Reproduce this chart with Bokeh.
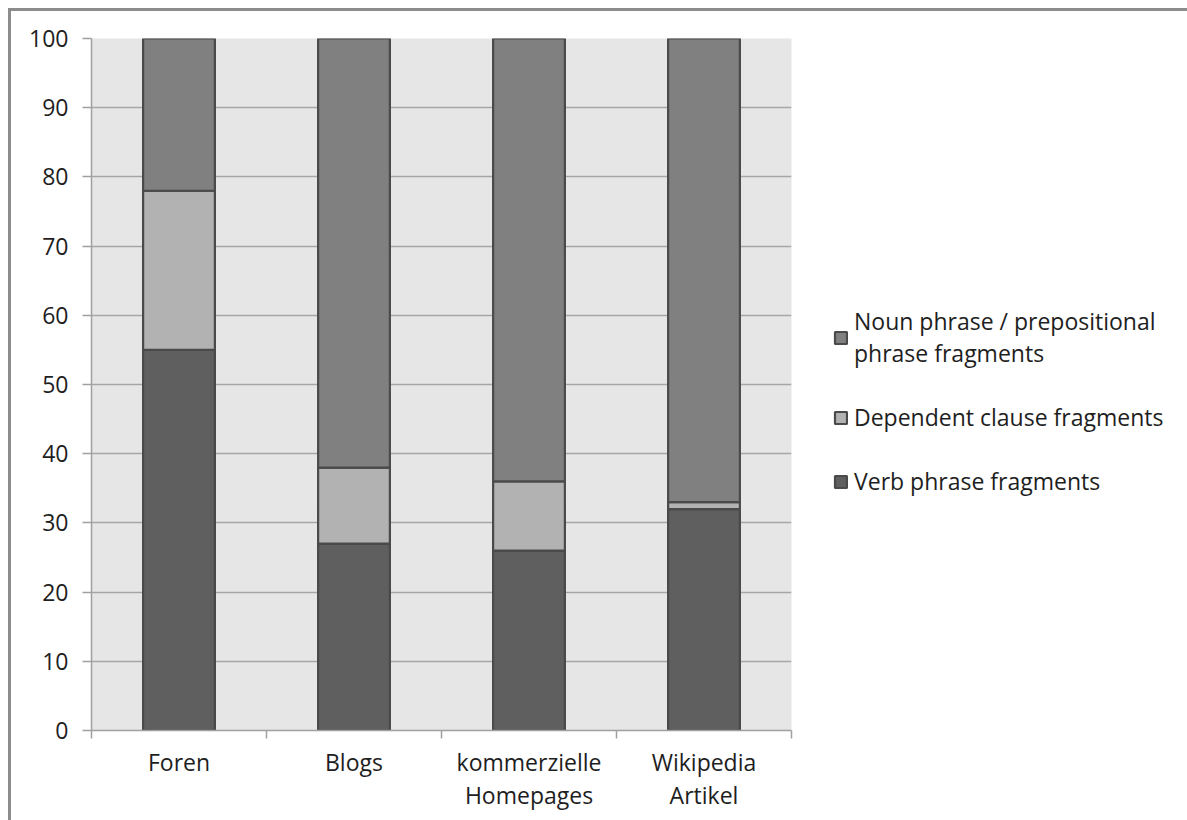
from bokeh.plotting import figure
from bokeh.models import (ColumnDataSource, FixedTicker, Legend, LegendItem,
                          Range1d)
from bokeh.embed import file_html
from bokeh.resources import INLINE

# Share of fragment types (%) per text genre
categories = ["Foren", "Blogs", "kommerzielle\nHomepages", "Wikipedia\nArtikel"]
verb_phrase = [55, 27, 26, 32]
dependent_clause = [23, 11, 10, 1]
noun_phrase = [22, 62, 64, 67]

series_names = ["Verb phrase fragments", "Dependent clause fragments",
                "Noun phrase / prepositional\nphrase fragments"]
series_keys = ["verb", "dep", "noun"]
series_colors = ["#5f5f5f", "#b2b2b2", "#808080"]
y_ticks = list(range(0, 101, 10))

FONT = "Open Sans"
TEXT = "#1e1e1e"

x_pos = [i + 0.5 for i in range(len(categories))]
source = ColumnDataSource(dict(x=x_pos, verb=verb_phrase,
                               dep=dependent_clause, noun=noun_phrase))

p = figure(frame_width=700, frame_height=692, output_backend="svg",
           toolbar_location=None,
           x_range=Range1d(0, len(categories)), y_range=Range1d(0, 100),
           min_border_left=80, min_border_top=27,
           min_border_right=396, min_border_bottom=90)
p.styles = {"margin-left": "8px", "margin-top": "8px",
            "border-top": "3px solid #8c8c8c",
            "border-left": "3px solid #8c8c8c"}

p.background_fill_color = "#e6e6e6"
p.border_fill_color = "white"
p.outline_line_color = None

renderers = p.vbar_stack(series_keys, x="x", width=0.41, source=source,
                         fill_color=series_colors, line_color="#4a4a4a",
                         line_width=2.2)

# Grid
p.xgrid.grid_line_color = None
p.ygrid.ticker = FixedTicker(ticks=y_ticks)
p.ygrid.grid_line_color = "#a6a6a6"
p.ygrid.grid_line_width = 1.5

# Y axis
p.yaxis.ticker = FixedTicker(ticks=y_ticks)
p.yaxis.axis_line_color = "#a0a0a0"
p.yaxis.axis_line_width = 1.5
p.yaxis.major_tick_line_color = "#a0a0a0"
p.yaxis.major_tick_line_width = 1.5
p.yaxis.major_tick_out = 9
p.yaxis.major_tick_in = 0
p.yaxis.minor_tick_line_color = None
p.yaxis.major_label_standoff = 14
p.yaxis.major_label_text_font = FONT
p.yaxis.major_label_text_font_size = "23px"
p.yaxis.major_label_text_color = TEXT

# X axis: labels at bar centres, tick marks between categories
p.xaxis.ticker = FixedTicker(ticks=x_pos,
                             minor_ticks=list(range(len(categories) + 1)))
p.xaxis.major_label_overrides = {x: c for x, c in zip(x_pos, categories)}
p.xaxis.axis_line_color = "#a0a0a0"
p.xaxis.axis_line_width = 1.5
p.xaxis.major_tick_line_color = None
p.xaxis.major_tick_out = 0
p.xaxis.minor_tick_line_color = "#a0a0a0"
p.xaxis.minor_tick_line_width = 1.5
p.xaxis.minor_tick_out = 8
p.xaxis.minor_tick_in = 0
p.xaxis.major_label_standoff = 7
p.xaxis.major_label_text_font = FONT
p.xaxis.major_label_text_font_size = "23px"
p.xaxis.major_label_text_line_height = 1.05
p.xaxis.major_label_text_color = TEXT

# Legend, top entry = top of stack
items = [LegendItem(label=name, renderers=[r])
         for name, r in zip(series_names, renderers)][::-1]
legend = Legend(items=items, location=(42, 233), orientation="vertical",
                background_fill_alpha=0, border_line_color=None,
                label_text_font=FONT, label_text_font_size="23px",
                label_text_line_height=1.1,
                label_text_color=TEXT, glyph_width=15, glyph_height=15,
                label_standoff=6, spacing=32, padding=0, margin=0)
p.add_layout(legend, "right")

open("out.html", "w").write(file_html(p, INLINE))
